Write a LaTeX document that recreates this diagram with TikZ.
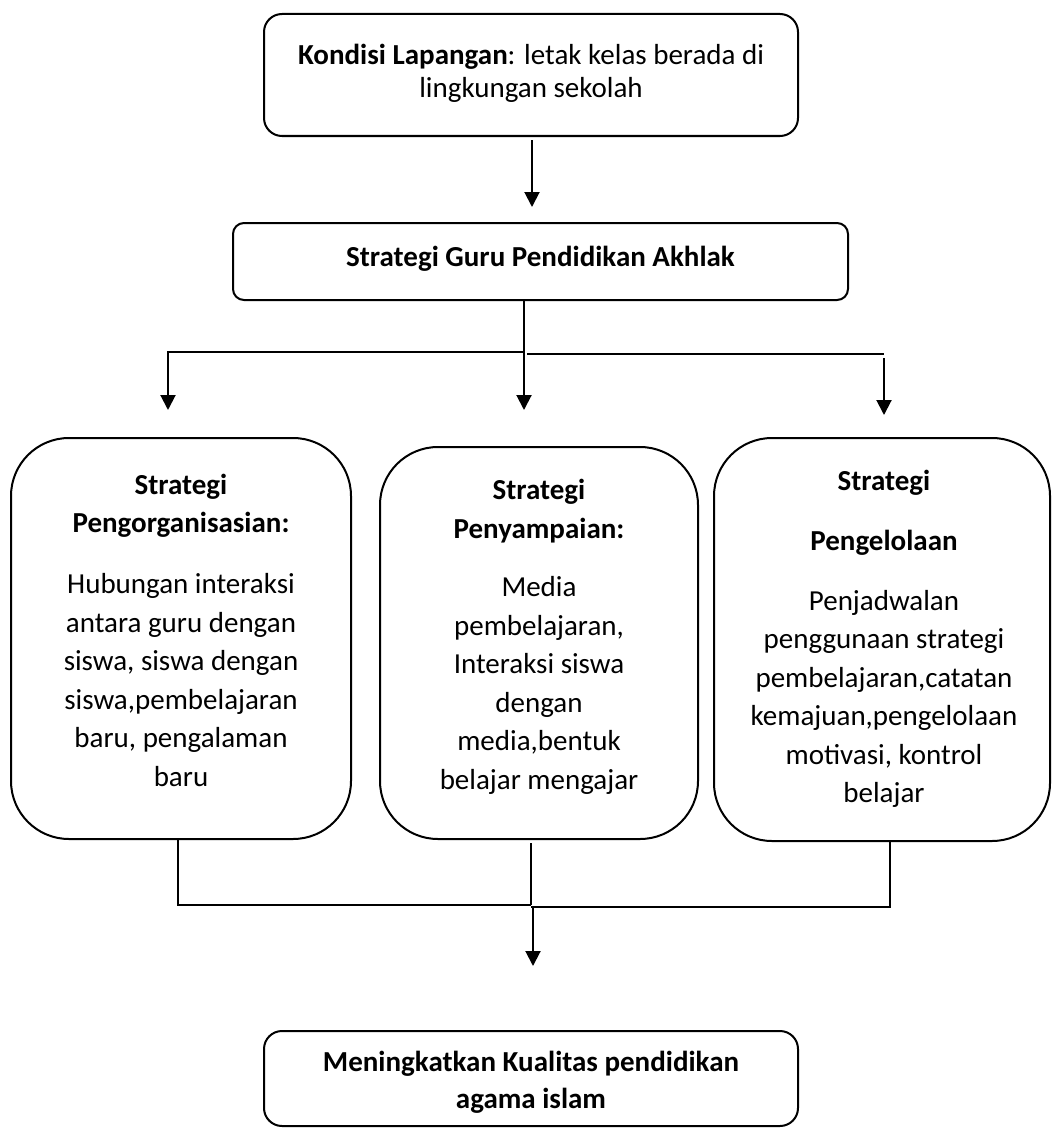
\documentclass[tikz,border=0pt]{standalone}
\usepackage{fontspec}
\setmainfont{Carlito}
\usetikzlibrary{arrows.meta}
\begin{document}
\begin{tikzpicture}[x=1pt,y=-1pt,
  box/.style={draw,line width=2pt,inner sep=0pt,rectangle},
  txt/.style={align=center,inner sep=0pt,font=\fontsize{29}{38.5}\selectfont},
  conn/.style={line width=2pt},
  arr/.style={line width=2pt,-{Triangle[length=15pt,width=15pt]}}]
\useasboundingbox (0,0) rectangle (1053,1129);
% boxes
\node[box,rounded corners=18pt,minimum width=534pt,minimum height=122pt] (b1) at (531,75) {};
\node[txt,font=\fontsize{29}{33}\selectfont] (t1) at (531,73) {\textbf{Kondisi Lapangan}: letak kelas berada di\\lingkungan sekolah};
\node[box,rounded corners=11pt,minimum width=615pt,minimum height=77pt] (b2) at (540.5,261.5) {};
\node[txt] (t2) at (540.5,259) {\textbf{Strategi Guru Pendidikan Akhlak}};
\node[box,rounded corners=58pt,minimum width=340pt,minimum height=401pt] (L) at (181,638.5) {};
\node[txt] (tL) at (181,630) {\textbf{Strategi}\\\textbf{Pengorganisasian:}\\[22.5pt]Hubungan interaksi\\antara guru dengan\\siswa, siswa dengan\\siswa,pembelajaran\\baru, pengalaman\\baru};
\node[box,rounded corners=58pt,minimum width=318pt,minimum height=392pt] (M) at (539,643) {};
\node[txt] (tM) at (539,637) {\textbf{Strategi}\\\textbf{Penyampaian:}\\[20pt]Media\\pembelajaran,\\Interaksi siswa\\dengan\\media,bentuk\\belajar mengajar};
\node[box,rounded corners=58pt,minimum width=336pt,minimum height=403pt] (R) at (882,639.5) {};
\node[txt] (tR) at (884,639) {\textbf{Strategi}\\[21.5pt]\textbf{Pengelolaan}\\[21.5pt]Penjadwalan\\penggunaan strategi\\pembelajaran,catatan\\kemajuan,pengelolaan\\motivasi, kontrol\\belajar};
\node[box,rounded corners=18pt,minimum width=534pt,minimum height=95pt] (B) at (531,1078.5) {};
\node[txt,font=\fontsize{29}{37}\selectfont] (tB) at (531,1082) {\textbf{Meningkatkan Kualitas pendidikan}\\\textbf{agama islam}};
% top arrow
\coordinate (a1s) at (532,140);
\coordinate (a1e) at (532,207);
\draw[arr] (a1s) -- (a1e);
% branch
\coordinate (jm) at (524,352);
\coordinate (jl) at (168,352);
\coordinate (tl) at (168,410);
\coordinate (tm) at (524,410);
\coordinate (jr0) at (527,354);
\coordinate (jr) at (884,354);
\coordinate (tr0) at (884,358);
\coordinate (tr) at (884,415);
\draw[conn] (b2.south -| jm) -- (jm);
\draw[arr] (jm) -- (jl) -- (tl);
\draw[arr] (jm) -- (tm);
\draw[conn] (jr0) -- (jr);
\draw[arr] (tr0) -- (tr);
% merge
\coordinate (ml) at (178,905);
\coordinate (mm0) at (531,843);
\coordinate (mm) at (531,905);
\coordinate (mr) at (890,907);
\coordinate (mr1) at (531,907);
\draw[conn] (L.south -| ml) -- (ml) -- (mm);
\draw[conn] (mm0) -- (mm);
\draw[conn] (R.south -| mr) -- (mr) -- (mr1);
\coordinate (a2s) at (533,908);
\coordinate (a2e) at (533,966);
\draw[arr] (a2s) -- (a2e);
\end{tikzpicture}
\end{document}
